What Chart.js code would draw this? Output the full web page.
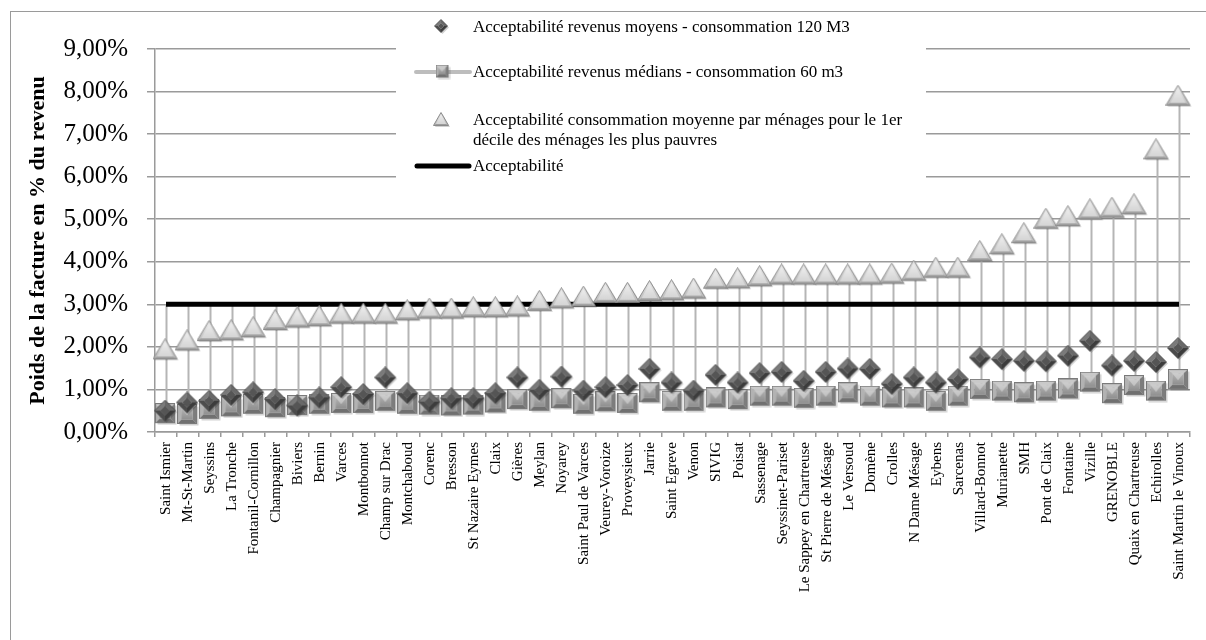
<!DOCTYPE html>
<html>
<head>
<meta charset="utf-8">
<script src="https://cdn.jsdelivr.net/npm/chart.js@4.4.0/dist/chart.umd.min.js"></script>
<style>
  html, body { margin: 0; padding: 0; background: #fff; }
  #wrap  { position: relative; width: 1206px; height: 640px; overflow: hidden; }
  #frame { position: absolute; left: 10px; top: 11px; width: 1300px; height: 700px;
           border-left: 1.5px solid #9a9a9a; border-top: 1.5px solid #9a9a9a; }
  #chart { position: absolute; left: 0; top: 0; }
</style>
</head>
<body>
<div id="wrap">
  <div id="frame"></div>
  <canvas id="chart" width="1206" height="640"></canvas>
</div>
<script>
/* ─── Data ────────────────────────────────────────────────── */
const COMMUNES = [
  'Saint Ismier', 'Mt-St-Martin', 'Seyssins', 'La Tronche', 'Fontanil-Cornillon', 'Champagnier',
  'Biviers', 'Bernin', 'Varces', 'Montbonnot', 'Champ sur Drac', 'Montchaboud', 'Corenc', 'Bresson',
  'St Nazaire Eymes', 'Claix', 'Gières', 'Meylan', 'Noyarey', 'Saint Paul de Varces', 'Veurey-Voroize',
  'Proveysieux', 'Jarrie', 'Saint Egreve', 'Venon', 'SIVIG', 'Poisat', 'Sassenage', 'Seyssinet-Pariset',
  'Le Sappey en Chartreuse', 'St Pierre de Mésage', 'Le Versoud', 'Domène', 'Crolles', 'N Dame Mésage',
  'Eybens', 'Sarcenas', 'Villard-Bonnot', 'Murianette', 'SMH', 'Pont de Claix', 'Fontaine', 'Vizille',
  'GRENOBLE', 'Quaix en Chartreuse', 'Echirolles', 'Saint Martin le Vinoux'
];

// revenus moyens - 120 m3 (diamonds), in %
const REVENUS_MOYENS = [
  0.48, 0.67, 0.71, 0.85, 0.91, 0.75, 0.60, 0.79, 1.03, 0.87, 1.26, 0.89, 0.69, 0.77, 0.77, 0.89,
  1.26, 0.97, 1.28, 0.95, 1.03, 1.08, 1.46, 1.14, 0.95, 1.32, 1.14, 1.36, 1.39, 1.18, 1.39, 1.47,
  1.46, 1.11, 1.26, 1.14, 1.22, 1.73, 1.69, 1.65, 1.64, 1.77, 2.12, 1.54, 1.65, 1.62, 1.95
];

// revenus médians - 60 m3 (squares), in %
const REVENUS_MEDIANS = [
  0.42, 0.40, 0.52, 0.58, 0.64, 0.56, 0.61, 0.64, 0.66, 0.66, 0.71, 0.64, 0.62, 0.60, 0.62, 0.67,
  0.75, 0.71, 0.77, 0.64, 0.70, 0.66, 0.91, 0.71, 0.71, 0.79, 0.75, 0.83, 0.83, 0.78, 0.83, 0.91,
  0.83, 0.79, 0.79, 0.71, 0.83, 0.99, 0.95, 0.91, 0.95, 1.00, 1.16, 0.89, 1.08, 0.95, 1.22
];

// 1er décile, consommation moyenne (triangles), in %
const PREMIER_DECILE = [
  1.93, 2.14, 2.36, 2.38, 2.45, 2.62, 2.68, 2.71, 2.77, 2.77, 2.77, 2.85, 2.89, 2.89, 2.92, 2.92,
  2.94, 3.07, 3.13, 3.17, 3.26, 3.26, 3.30, 3.32, 3.36, 3.59, 3.60, 3.65, 3.69, 3.69, 3.69, 3.69,
  3.69, 3.71, 3.78, 3.85, 3.85, 4.24, 4.40, 4.66, 5.00, 5.06, 5.22, 5.26, 5.34, 6.63, 7.89
];

// seuil d'acceptabilité, in %
const ACCEPTABILITE = [
  3, 3, 3, 3, 3, 3, 3, 3, 3, 3, 3, 3, 3, 3, 3, 3, 3, 3, 3, 3, 3, 3, 3, 3,
  3, 3, 3, 3, 3, 3, 3, 3, 3, 3, 3, 3, 3, 3, 3, 3, 3, 3, 3, 3, 3, 3, 3
];

const LEGEND_TEXT = [
  ['Acceptabilité revenus moyens - consommation 120 M3'],
  ['Acceptabilité revenus médians - consommation 60 m3'],
  ['Acceptabilité consommation moyenne par ménages pour le 1er', 'décile des ménages les plus pauvres'],
  ['Acceptabilité'],
];

const FONT = "'Liberation Serif', 'Times New Roman', serif";

/* ─── Marker sprites ──────────────────────────────────────── */
function sprite(w, h) {
  const c = document.createElement('canvas');
  c.width = w; c.height = h;
  return c;
}
function poly(g, pts, fill) {
  g.beginPath();
  pts.forEach(([x, y], i) => i ? g.lineTo(x, y) : g.moveTo(x, y));
  g.closePath();
  g.fillStyle = fill;
  g.fill();
}

function makeSquare(s) {
  const c = sprite(s + 3, s + 3), g = c.getContext('2d');
  const a = 0.5, b = a + s, k = Math.max(2, s * 0.2);
  g.fillStyle = 'rgba(0,0,0,0.18)';
  g.fillRect(a + 2, a + 2, s, s);
  poly(g, [[a, a], [b, a], [b - k, a + k], [a + k, a + k]], '#c9c9c9');   // top
  poly(g, [[a, a], [a + k, a + k], [a + k, b - k], [a, b]], '#b2b2b2');   // left
  poly(g, [[b, a], [b, b], [b - k, b - k], [b - k, a + k]], '#7d7d7d');   // right
  poly(g, [[a, b], [a + k, b - k], [b - k, b - k], [b, b]], '#707070');   // bottom
  const gr = g.createLinearGradient(0, a + k, 0, b - k);
  gr.addColorStop(0, '#b4b4b4'); gr.addColorStop(1, '#8e8e8e');
  g.fillStyle = gr;
  g.fillRect(a + k, a + k, s - 2 * k, s - 2 * k);
  poly(g, [[a + k, a + k], [b - k, a + k], [(a + b) / 2, (a + b) / 2 + k * 0.3]], 'rgba(255,255,255,0.35)');
  g.strokeStyle = '#7a7a7a'; g.lineWidth = 1;
  g.strokeRect(a, a, s, s);
  return c;
}

function makeDiamond(s) {
  const c = sprite(s + 3, s + 3), g = c.getContext('2d');
  const m = s / 2 + 0.5, r = s / 2, k = r * 0.45;
  poly(g, [[m + 1.5, m + 1.5 - r], [m + 1.5 + r, m + 1.5], [m + 1.5, m + 1.5 + r], [m + 1.5 - r, m + 1.5]], 'rgba(0,0,0,0.18)');
  poly(g, [[m - r, m], [m, m - r], [m, m - k], [m - k, m]], '#7a7a7a');   // top-left
  poly(g, [[m, m - r], [m + r, m], [m + k, m], [m, m - k]], '#686868');   // top-right
  poly(g, [[m + r, m], [m, m + r], [m, m + k], [m + k, m]], '#3c3c3c');   // bottom-right
  poly(g, [[m, m + r], [m - r, m], [m - k, m], [m, m + k]], '#4c4c4c');   // bottom-left
  poly(g, [[m, m - k], [m + k, m], [m, m + k], [m - k, m]], '#555555');
  g.beginPath();
  g.moveTo(m, m - r); g.lineTo(m + r, m); g.lineTo(m, m + r); g.lineTo(m - r, m); g.closePath();
  g.strokeStyle = '#444'; g.lineWidth = 0.8; g.stroke();
  return c;
}

function makeTriangle(w, h) {
  const c = sprite(w + 3, h + 3), g = c.getContext('2d');
  const x0 = 0.5, x1 = x0 + w, xm = (x0 + x1) / 2, y0 = 0.5, y1 = y0 + h;
  poly(g, [[xm + 1.5, y0 + 1.5], [x1 + 1.5, y1 + 1.5], [x0 + 1.5, y1 + 1.5]], 'rgba(0,0,0,0.18)');
  const gr = g.createLinearGradient(0, y0, 0, y1);
  gr.addColorStop(0, '#ececec'); gr.addColorStop(1, '#b8b8b8');
  poly(g, [[xm, y0], [x1, y1], [x0, y1]], gr);
  const k = w * 0.14;
  poly(g, [[x0, y1], [x0 + k * 1.2, y1 - k * 0.7], [x1 - k * 1.2, y1 - k * 0.7], [x1, y1]], '#9c9c9c');
  poly(g, [[xm, y0 + k * 0.9], [x1 - k * 1.2, y1 - k * 0.7], [x0 + k * 1.2, y1 - k * 0.7]], 'rgba(255,255,255,0.35)');
  g.beginPath();
  g.moveTo(xm, y0); g.lineTo(x1, y1); g.lineTo(x0, y1); g.closePath();
  g.strokeStyle = '#8a8a8a'; g.lineWidth = 1; g.stroke();
  return c;
}

const MK = {
  square:   makeSquare(19),
  diamond:  makeDiamond(21),
  triangle: makeTriangle(24, 20),
  lgSquare:   makeSquare(12),
  lgDiamond:  makeDiamond(13),
  lgTriangle: makeTriangle(15, 13),
};

/* ─── Plugins ─────────────────────────────────────────────── */
// Excel-style high-low lines: from the highest to the lowest value of every category
const highLowLines = {
  id: 'highLowLines',
  beforeDatasetsDraw(chart) {
    const { ctx, scales: { x, y } } = chart;
    ctx.save();
    ctx.strokeStyle = '#b5b5b5';
    ctx.lineWidth = 2;
    ctx.beginPath();
    chart.data.labels.forEach((_, i) => {
      const vals = chart.data.datasets.map(d => d.data[i]);
      const px = Math.round(x.getPixelForValue(i)) + 0.5;
      ctx.moveTo(px, y.getPixelForValue(Math.max(...vals)));
      ctx.lineTo(px, y.getPixelForValue(Math.min(...vals)));
    });
    ctx.stroke();
    ctx.restore();
  },
};

// Legend box laid over the top of the plot, like the source workbook
const boxLegend = {
  id: 'boxLegend',
  afterDraw(chart) {
    const ctx = chart.ctx;
    const mx = 442, tx = 473;
    const rows = [27, 72, 120, 166];
    ctx.save();
    ctx.fillStyle = '#fff';
    ctx.fillRect(396, 13, 530, 180);

    ctx.drawImage(MK.lgDiamond, mx - MK.lgDiamond.width / 2, rows[0] - MK.lgDiamond.height / 2);

    ctx.strokeStyle = '#bdbdbd'; ctx.lineWidth = 4; ctx.lineCap = 'round';
    ctx.beginPath(); ctx.moveTo(416, rows[1]); ctx.lineTo(470, rows[1]); ctx.stroke();
    ctx.drawImage(MK.lgSquare, mx - MK.lgSquare.width / 2 + 1, rows[1] - MK.lgSquare.height / 2);

    ctx.drawImage(MK.lgTriangle, mx - MK.lgTriangle.width / 2, rows[2] - MK.lgTriangle.height / 2);

    ctx.strokeStyle = '#000'; ctx.lineWidth = 5;
    ctx.beginPath(); ctx.moveTo(417, rows[3]); ctx.lineTo(469, rows[3]); ctx.stroke();

    ctx.fillStyle = '#000';
    ctx.font = `17px ${FONT}`;
    ctx.textBaseline = 'middle';
    LEGEND_TEXT.forEach((lines, r) => {
      lines.forEach((t, j) => ctx.fillText(t, tx, rows[r] + 1 + j * 20));
    });
    ctx.restore();
  },
};

/* ─── Chart ───────────────────────────────────────────────── */
const pct = v => v.toFixed(2).replace('.', ',') + '%';

new Chart(document.getElementById('chart'), {
  type: 'line',
  data: {
    labels: COMMUNES,
    datasets: [
      {
        label: 'Acceptabilité revenus moyens - consommation 120 M3',
        data: REVENUS_MOYENS,
        showLine: false,
        pointStyle: MK.diamond,
        order: 2,
      },
      {
        label: 'Acceptabilité revenus médians - consommation 60 m3',
        data: REVENUS_MEDIANS,
        showLine: false,
        pointStyle: MK.square,
        order: 3,
      },
      {
        label: 'Acceptabilité consommation moyenne par ménages pour le 1er décile des ménages les plus pauvres',
        data: PREMIER_DECILE,
        showLine: false,
        pointStyle: MK.triangle,
        order: 1,
      },
      {
        label: 'Acceptabilité',
        data: ACCEPTABILITE,
        borderColor: '#000',
        borderWidth: 5,
        pointRadius: 0,
        tension: 0,
        order: 4,
      },
    ],
  },
  options: {
    responsive: false,
    animation: false,
    events: [],
    layout: { padding: { left: 10, top: 49, right: 16, bottom: 0 } },
    plugins: {
      legend:  { display: false },
      tooltip: { enabled: false },
    },
    scales: {
      x: {
        offset: true,
        grid:   { offset: true, drawOnChartArea: false, drawTicks: true, tickLength: 5, color: '#9a9a9a', lineWidth: 1.5 },
        border: { color: '#9a9a9a', width: 1.5 },
        ticks:  { autoSkip: false, minRotation: 90, maxRotation: 90, padding: 5, color: '#000',
                  font: { family: FONT, size: 15 } },
        afterFit: s => { s.height = 208; },
      },
      y: {
        min: 0,
        max: 9,
        grid:   { color: '#9a9a9a', lineWidth: 1.5, drawTicks: true, tickLength: 8 },
        border: { color: '#9a9a9a', width: 1.5 },
        ticks:  { stepSize: 1, padding: 19, color: '#000', callback: v => pct(v),
                  font: { family: FONT, size: 25 } },
        title:  { display: true, text: 'Poids de la facture en % du revenu', color: '#000',
                  padding: { top: 15, bottom: 0 }, font: { family: FONT, size: 22, weight: 'bold' } },
        afterFit: s => { s.width = 145; },
      },
    },
  },
  plugins: [highLowLines, boxLegend],
});
</script>
</body>
</html>
